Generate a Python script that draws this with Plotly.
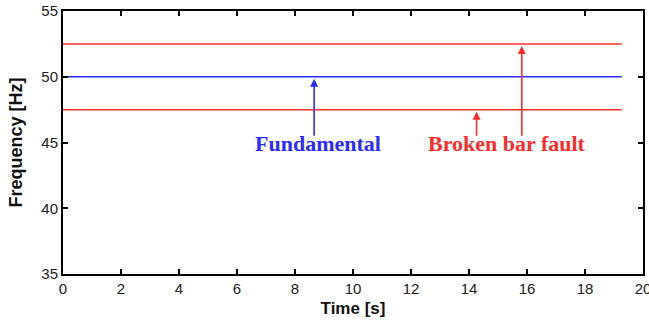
import plotly.graph_objects as go

# Time axis span and the three constant frequency components
t_span = [0, 19.27]
fundamental_hz = 50.0
sideband_hz = [52.5, 47.5]

x_ticks = [0, 2, 4, 6, 8, 10, 12, 14, 16, 18, 20]
y_ticks = [35, 40, 45, 50, 55]

# Arrow pointers: (x, tail y, head y)
fund_arrow = (8.66, 45.4, 50.0)
fault_arrows = [(14.26, 45.4, 47.5), (15.82, 45.4, 52.5)]

blue = "#2b2bff"
red = "#ff2b2b"

fig = go.Figure()
for f in sideband_hz:
    fig.add_trace(go.Scatter(x=t_span, y=[f, f], mode="lines",
                             line=dict(color=red, width=1.5), showlegend=False))
fig.add_trace(go.Scatter(x=t_span, y=[fundamental_hz, fundamental_hz], mode="lines",
                         line=dict(color=blue, width=1.5), showlegend=False))

def arrow(x, y0, y1, color):
    fig.add_annotation(x=x, y=y1, ax=x, ay=y0, xref="x", yref="y",
                       axref="x", ayref="y", showarrow=True, text="",
                       arrowhead=2, arrowsize=1.0, arrowwidth=1.6,
                       arrowcolor=color, standoff=2)

arrow(*fund_arrow, blue)
for a in fault_arrows:
    arrow(*a, red)

fig.add_annotation(x=8.8, y=44.9, text="<b>Fundamental</b>", showarrow=False,
                   font=dict(family="Liberation Serif", size=22, color=blue))
fig.add_annotation(x=15.3, y=44.9, text="<b>Broken bar fault</b>", showarrow=False,
                   font=dict(family="Liberation Serif", size=22, color=red))

axis_common = dict(showgrid=False, zeroline=False, showline=True, linecolor="black",
                   linewidth=2, mirror="ticks", ticks="inside", ticklen=5,
                   tickwidth=1.5, tickcolor="black", automargin=False,
                   ticklabeloverflow="allow",
                   tickfont=dict(family="Liberation Sans", size=15, color="#222"))

fig.update_xaxes(range=[0, 20], tickvals=x_ticks,
                 title=dict(text="<b>Time [s]</b>", standoff=6,
                            font=dict(family="Liberation Sans", size=17, color="#111")),
                 **axis_common)
fig.update_yaxes(range=[35, 55], tickvals=y_ticks,
                 title=dict(text="<b>Frequency [Hz]</b>", standoff=14,
                            font=dict(family="Liberation Sans", size=18, color="#111")),
                 **axis_common)

fig.update_layout(width=649, height=324, margin=dict(l=63, r=6, t=11, b=50),
                  plot_bgcolor="white", paper_bgcolor="white")

fig.write_html("out.html")
